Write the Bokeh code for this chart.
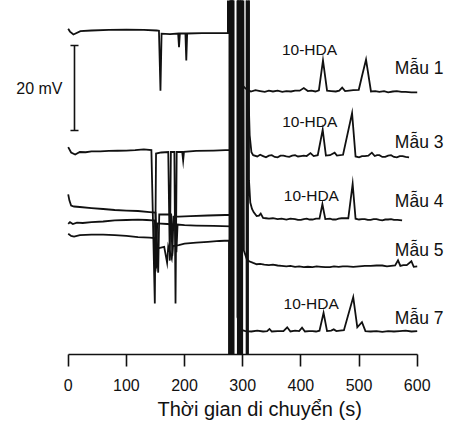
from bokeh.plotting import figure
from bokeh.models import Range1d, Label, FixedTicker, Title
from bokeh.embed import file_html
from bokeh.resources import INLINE

FONT = "Liberation Sans"
INK = "#111111"

# ---- axis ----
x_ticks = [0, 100, 200, 300, 400, 500, 600]
x_title = "Thời gian di chuyển (s)"

# ---- sample names / peak label ----
samples = ["Mẫu 1", "Mẫu 3", "Mẫu 4", "Mẫu 5", "Mẫu 7"]
peak_name = "10-HDA"
scale_bar_mv = 20
scale_text = "20 mV"

# ---- traces: time (s) and signal (mV, relative to each trace's late baseline) ----
m1_t = [0, 3, 9, 21, 40, 70, 100, 130, 152, 156, 158.6, 160.5, 175, 189, 190.5, 192,
        201.5, 203, 204.5, 230, 255, 274.5, 275.5, 277, 277.3, 280, 280.3, 292, 292.3,
        295, 295.3, 298.5, 299.2, 305, 314, 322, 330, 338, 345, 352, 360, 368, 375, 383,
        390, 398, 405, 412, 418, 425, 431, 438, 445, 452, 460, 466, 471, 476, 483, 490,
        499.5, 505, 512, 520.5, 528, 535, 543, 550, 558, 565, 573, 580, 590, 600]
m1_v = [14.75, 14.1, 13.4, 14.2, 14.35, 14.5, 14.55, 14.5, 14.35, 14.3, 0.2, 13.6, 13.5,
        13.65, 10.4, 13.65, 13.65, 7.3, 13.65, 13.75, 13.75, 13.75, 400, 400, -400, -400,
        400, 400, -400, -400, 400, 400, 1.5, 0.7, 0.0, 0.3, 0.1, -0.1, 0.2, 0.0, 0.2, -0.1,
        0.1, 0.0, 0.2, 0.2, 0.8, 0.1, 0.2, 0.0, 0.3, 7.3, 0.2, 0.1, 0.0, 0.2, 0.9, 0.1,
        0.2, 0.3, 0.4, 3.6, 7.5, 0.0, 0.1, -0.1, 0.1, -0.2, 0.0, 0.1, -0.1, -0.1, -0.2, -0.2]

m3_t = [0, 5, 12, 20, 30, 40, 55, 70, 85, 100, 115, 130, 143, 148.9, 151, 160, 172, 174.7,
        176.5, 182.5, 184.5, 186.5, 196, 197.6, 199, 220, 250, 270, 282.7, 283, 284, 284.3,
        297, 297.3, 299, 299.3, 306.5, 306.8, 309.5, 310.5, 312, 315, 318, 325, 330, 335, 340,
        345, 350, 355, 360, 365, 370, 375, 380, 385, 390, 395, 400, 405, 410, 416.5, 422,
        429, 437.5, 443, 450, 458, 462, 472.5, 488, 494, 500, 505, 510, 516, 522, 527, 531,
        535, 540, 545, 550, 555, 560, 565, 570, 575, 580, 586]
m3_v = [2.2, 0.94, 0.47, 1.06, 1.0, 1.18, 1.2, 1.3, 1.35, 1.4, 1.5, 1.65, 1.5, -34.6, 0.7,
        0.94, 1.06, -24.5, 1.06, 1.06, -34.6, 1.06, 1.1, -0.94, 1.1, 1.3, 1.4, 1.5, 1.5,
        400, 400, -400, -400, 400, 400, -400, -400, 400, 400, 12.0, 5.0, 1.0, 0.3, 0.0,
        0.4, 0.1, -0.2, 0.2, 0.3, -0.1, -0.2, 0.2, 0.2, 0.0, -0.1, 0.2, 0.3, 0.0, 0.1, 0.2,
        0.1, 0.8, 0.1, 0.3, 6.3, 0.2, 0.3, 0.9, 0.2, 0.4, 10.2, 0.0, -0.2, 0.1, 0.1, 0.2,
        0.9, 0.1, 0.3, 0.3, -0.1, -0.1, 0.2, 0.3, -0.1, -0.2, 0.1, 0.1, -0.1, -0.2]

m4_t = [0, 2, 5, 10, 20, 40, 60, 80, 100, 120, 140, 150, 154.7, 156.5, 177, 179, 181, 190,
        210, 240, 270, 278, 278.3, 281, 281.3, 293, 293.3, 296.5, 296.8, 307, 307.3, 309,
        309.3, 310.2, 310.8, 313, 316, 319, 324, 328, 331, 335, 340, 345, 352, 360, 367,
        375, 382, 390, 395, 400, 405, 410, 415, 420, 426, 432, 437, 442, 450, 455, 460, 465,
        470, 481.5, 489, 494, 500, 505, 510, 515, 520, 525, 530, 535, 540, 545, 550, 555,
        560, 566, 574]
m4_v = [5.9, 4.5, 3.3, 3.06, 2.94, 2.7, 2.47, 2.24, 2.1, 2.0, 1.76, 1.65, -12.5, 1.18,
        1.18, -8.5, 0.7, 0.7, 0.8, 0.94, 1.06, 1.06, -400, -400, 400, 400, -400, -400, 400,
        400, -400, -400, 400, 400, 9.2, 4.0, 2.5, 1.7, 0.8, 0.9, 1.4, 0.4, 0.3, 0.2, 0.3,
        0.1, 0.2, 0.0, 0.2, 0.1, -0.1, -0.1, 0.1, 0.2, 0.0, 0.0, 0.2, 0.2, 3.6, 0.1, 0.2,
        0.0, 0.0, 0.2, 0.3, 0.3, 8.4, 0.2, 0.0, 0.1, 0.1, -0.1, -0.1, 0.1, 0.1, -0.1, -0.2,
        0.0, 0.0, 0.1, -0.1, -0.1, -0.2]

m5_t = [0, 3, 8, 15, 25, 40, 60, 80, 100, 120, 135, 145, 149, 151, 153, 170, 180, 184, 186,
        188, 200, 220, 250, 279, 279.3, 282, 282.3, 291.5, 291.8, 294, 294.3, 295.7, 296.5,
        302, 307, 311, 318, 324, 330, 337, 345, 352, 360, 367, 375, 382, 390, 397, 405, 412,
        420, 427, 435, 442, 450, 457, 465, 472, 480, 490, 500, 510, 520, 530, 540, 548, 555,
        562, 567, 571, 576, 582, 590, 594, 600]
m5_v = [9.8, 10.2, 9.76, 10.1, 10.0, 10.2, 10.35, 10.6, 10.7, 10.8, 10.7, 10.6, 10.6, -0.7,
        9.9, 9.76, 9.65, 9.65, 3.1, 9.65, 9.5, 9.4, 9.3, 9.2, 400, 400, -400, -400, 400, 400,
        -400, -400, 400, 3.5, 1.5, 1.0, 0.6, 0.3, 0.4, 0.2, 0.1, 0.2, 0.0, -0.1, -0.2, -0.1,
        -0.3, -0.2, -0.4, -0.3, -0.4, -0.2, -0.3, -0.4, -0.4, -0.2, -0.3, -0.2, -0.2, -0.3,
        -0.2, -0.1, -0.1, 0.0, 0.0, -0.2, -0.1, 0.0, 1.2, -0.1, 0.1, 0.1, 1.0, -0.3, -0.2]

m7_t = [0, 5, 10, 20, 40, 60, 80, 100, 120, 140, 148, 150, 152, 165, 170, 172, 178, 180, 190,
        200, 220, 240, 260, 276.5, 276.8, 278.5, 278.8, 282.5, 282.8, 283.7, 284, 290.3,
        291, 293, 296, 299, 305, 315, 325, 335, 342, 346, 350, 360, 370, 376.5, 382, 390,
        397, 402, 407, 414, 420, 426, 432, 439, 445, 452, 456.5, 461, 467, 474, 490, 497,
        505, 511, 520, 530, 540, 550, 560, 570, 580, 590, 600]
m7_v = [23.0, 22.5, 22.35, 22.7, 22.8, 22.8, 22.7, 22.5, 22.2, 22.1, 22.0, 14.1, 19.5,
        19.9, 16.2, 20.0, 17.2, 20.1, 20.35, 20.7, 20.9, 21.1, 21.3, 21.4, -400, -400, 400,
        400, -400, -400, 400, 400, 3.4, 2.5, 1.0, 0.3, 0.1, 0.0, 0.2, 0.0, 0.1, 0.6, 0.0,
        0.1, 0.1, 1.0, 0.0, 0.2, 0.1, 0.9, 0.0, 0.1, 0.1, 0.0, 0.2, 4.4, 0.1, 0.2, 0.5,
        0.1, 0.2, 0.3, 8.1, 1.0, 2.2, 0.1, 0.0, 0.1, -0.1, 0.1, 0.0, 0.1, 0.2, 0.0, 0.1]

traces_t = [m1_t, m3_t, m4_t, m5_t, m7_t]
traces_v = [m1_v, m3_v, m4_v, m5_v, m7_v]

# ---- layout (stacking offsets and label anchors, in axis units) ----
offsets = [61.88, 46.59, 31.76, 20.94, 5.41]
sample_label_y = [67.5, 50.1, 36.0, 24.7, 8.7]
peak_label_xy = [(414.8, 71.8), (415.2, 54.9), (418.0, 37.3), None, (417.7, 12.0)]

W, H = 449, 423
p = figure(width=W, height=H, x_range=Range1d(-116.4, 655.5), y_range=Range1d(0, 83.29),
           output_backend="svg", toolbar_location=None, y_axis_location=None,
           min_border_left=0, min_border_right=0, min_border_top=0, min_border_bottom=69)
p.grid.visible = False
p.outline_line_color = None
p.background_fill_color = "white"
p.border_fill_color = "white"

ax = p.xaxis[0]
ax.bounds = (0, 600)
ax.ticker = FixedTicker(ticks=x_ticks)
ax.axis_line_width = 1.6
ax.axis_line_color = INK
ax.major_tick_line_width = 1.6
ax.major_tick_line_color = INK
ax.major_tick_out = 12
ax.major_tick_in = 0
ax.minor_tick_line_color = None
ax.major_label_text_font = FONT
ax.major_label_text_font_size = "16px"
ax.major_label_text_color = INK
ax.major_label_standoff = 12

p.add_layout(Title(text=x_title, align="left", offset=157, text_font=FONT,
                   text_font_size="20px", text_font_style="normal", text_color=INK,
                   standoff=4), "below")

for t, v, off in zip(traces_t, traces_v, offsets):
    p.line(t, [off + y for y in v], line_width=1.8, line_color=INK, line_join="miter")

# scale bar
bar_t, bar_low, cap = 10.8, 52.7, 6.9
p.segment(x0=[bar_t, bar_t - cap, bar_t - cap], y0=[bar_low, bar_low, bar_low + scale_bar_mv],
          x1=[bar_t, bar_t + cap, bar_t + cap], y1=[bar_low + scale_bar_mv, bar_low, bar_low + scale_bar_mv],
          line_width=1.6, line_color=INK)
p.add_layout(Label(x=-9.8, y=bar_low + scale_bar_mv / 2, text=scale_text, text_font=FONT,
                   text_font_size="16px", text_color=INK, text_align="right", text_baseline="middle"))

for name, ly in zip(samples, sample_label_y):
    p.add_layout(Label(x=561.5, y=ly, text=name, text_font=FONT, text_font_size="17.5px",
                       text_color=INK, text_align="left", text_baseline="middle"))

for xy in peak_label_xy:
    if xy is None:
        continue
    p.add_layout(Label(x=xy[0], y=xy[1], text=peak_name, text_font=FONT, text_font_size="15.5px",
                       text_color=INK, text_align="center", text_baseline="middle"))

open("out.html", "w").write(file_html(p, INLINE))
